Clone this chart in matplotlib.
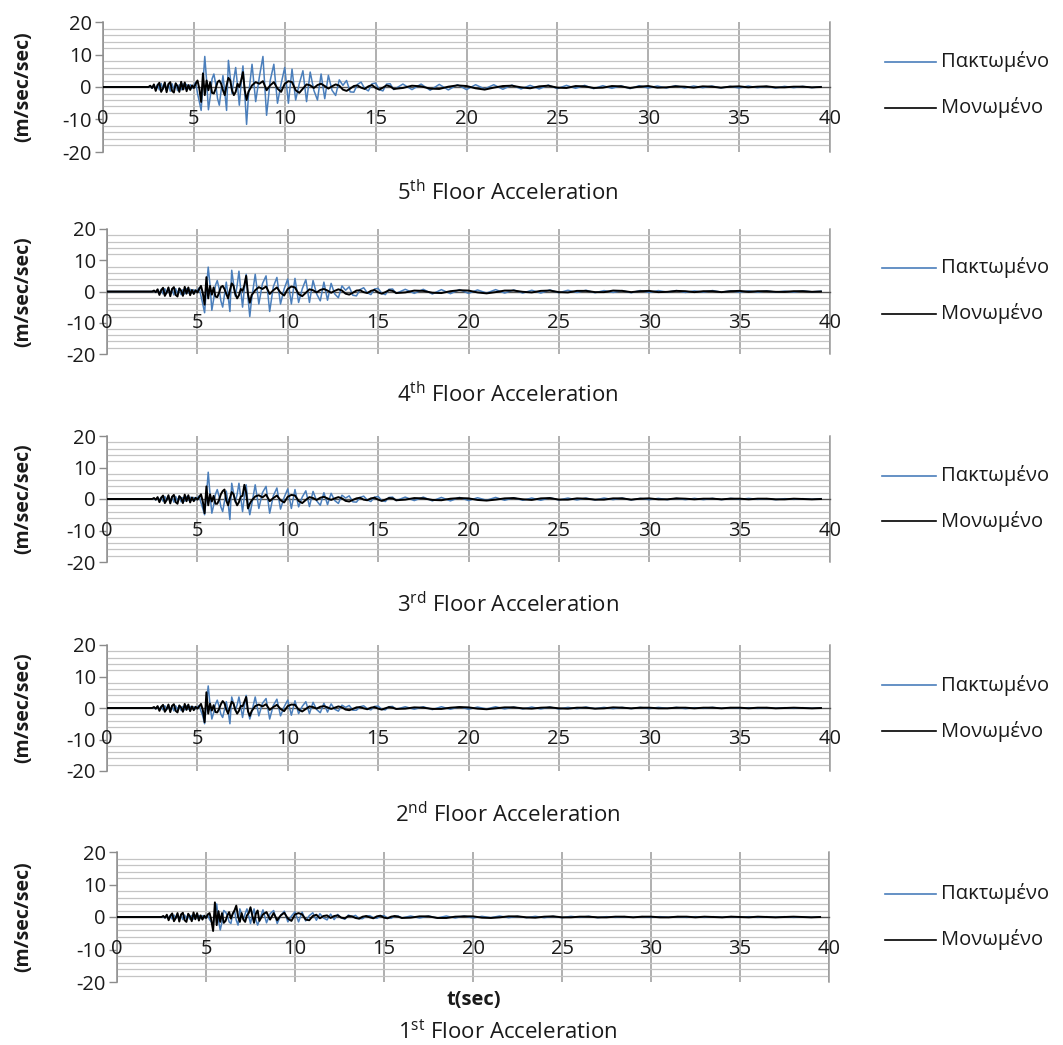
import numpy as np
import matplotlib
matplotlib.use("Agg")
import matplotlib.pyplot as plt
from matplotlib.lines import Line2D

plt.rcParams['font.family'] = ['Open Sans', 'DejaVu Sans']
plt.rcParams['mathtext.fontset'] = 'custom'
plt.rcParams['mathtext.rm'] = 'Open Sans'
plt.rcParams['axes.unicode_minus'] = False

# ---------------- data ----------------
# time axis (s): start, 2.5-5.0 @0.1, 5.1-8.0 @0.1, 8.2-16.0 @0.2, 16.5-39.5 @0.5
time_s = np.concatenate([[0.0],
                         np.round(np.arange(2.5, 5.05, 0.1), 2),
                         np.round(np.arange(5.1, 8.05, 0.1), 2),
                         np.round(np.arange(8.2, 16.05, 0.2), 2),
                         np.round(np.arange(16.5, 39.55, 0.5), 2)])

x_ticks = [0, 5, 10, 15, 20, 25, 30, 35, 40]
y_ticks = [-20, -10, 0, 10, 20]
series_names = ["Πακτωμένο", "Μονωμένο"]
panel_titles = [r"5$^{\rm th}$ Floor Acceleration", r"4$^{\rm th}$ Floor Acceleration",
                r"3$^{\rm rd}$ Floor Acceleration", r"2$^{\rm nd}$ Floor Acceleration",
                r"1$^{\rm st}$ Floor Acceleration"]

fixed_5 = [0,
    0, 0.3, -0.4, 0.6, -0.5, 0.8, -0.9, 1.1, -0.7, 1.2, -1.0, 0.9, -1.3, 1.0, -0.8, 1.2, -1.1, 0.7, -0.9, 1.0, -0.6, 0.8, -0.5, 0.7, -0.4, 0.5,
    1.5, -2.0, -4.5, -7.2, 1.0, 9.4, 2.0, -7.0, -3.0, 2.5, 4.0, 1.0, -3.5, -5.6, -1.0, 3.5, -1.5, -7.2, 8.2, 3.0,
    -2.0, 2.5, 6.0, 0.5, -5.6, 1.0, 6.5, -2.0, -11.5, -3.0,
    7.0, -4.5, 3.0, 9.4, -8.7, 2.0, 7.0, -5.0, 1.0, 6.0, -5.0, 5.5, -4.0, 1.0, 5.0, -4.5, 4.6, -1.0, -4.0, 4.0,
    -3.6, 3.6, -1.0, -2.6, 2.2, 0.5, 2.0, -1.5, -1.6, 0.8, 1.5, -0.5, -1.2, 1.0, 1.2, -0.8, -1.2, 0.9, 1.0, -0.8,
    0.9, -0.8, 0.9, -1.0, 0.8, -0.9, 0.7, -0.8, 0.7, -0.6, 0.7, -0.7, 0.6, -0.6, 0.5, -0.6, 0.6, -0.5,
    0.5, -0.4, 0.5, -0.5, 0.4, -0.4, 0.4, -0.5, 0.4, -0.3, 0.3, -0.3, 0.4, -0.3, 0.3, -0.2, 0.3, -0.3, 0.2, -0.3,
    0.3, -0.2, 0.2, -0.3, 0.2, -0.2, 0.2, -0.2, 0.1]
isolated_5 = [0,
    0, 0.4, -0.3, 0.8, -1.2, 0.5, 1.3, -1.5, -0.4, 1.4, -1.6, 0.9, 1.5, -1.2, -1.7, 1.1, 0.3, -1.5, 1.6, -0.8, 1.4, -1.3, 0.6, -0.9, 0.5, -0.3,
    1.0, 2.0, -0.5, -4.6, 4.2, -2.5, 2.0, -1.0, 1.5, -1.8, -2.0, -0.5, 1.5, 2.0, 1.0, -1.0, -2.5, 0.5, 2.8, 2.0,
    -1.0, -2.5, -1.5, 1.0, 0.0, 2.0, 4.6, -1.0, -4.0, -1.5,
    0.5, 1.5, 1.0, 1.8, -1.0, 0.5, 1.5, -0.5, -1.5, 1.0, 1.8, 1.5, -1.0, -1.8, -0.5, 0.8, 0.5, -0.3, 0.6, 1.0,
    0.3, -0.5, 0.2, 0.8, 0.4, -0.8, -1.2, -0.5, 0.3, 0.5, -0.2, -0.6, 0.2, 0.6, -0.3, -0.8, -0.2, 0.5, 0.2, -0.6,
    -0.3, 0.4, 0.2, -0.5, -0.6, 0.1, 0.5, 0.3, -0.4, -0.8, -0.2, 0.3, 0.4, -0.1, -0.4, 0.2, 0.4, -0.2,
    -0.3, 0.3, 0.2, -0.3, -0.2, 0.3, 0.2, -0.3, 0.1, 0.3, -0.2, -0.1, 0.2, 0.1, -0.2, 0.2, 0.1, -0.2, 0.1, 0.2,
    -0.1, 0.1, 0.2, -0.1, -0.1, 0.1, 0.1, -0.1, 0.0]

fixed_4 = [0,
    0, 0.2, -0.3, 0.5, -0.4, 0.7, -0.8, 0.9, -0.6, 1.0, -0.9, 0.8, -1.1, 0.9, -0.7, 1.0, -1.0, 0.6, -0.8, 0.9, -0.5, 0.7, -0.5, 0.6, -0.3, 0.4,
    1.2, -1.5, -4.0, -6.8, 1.0, 7.8, 2.0, -6.0, -2.5, 2.0, 3.5, 1.0, -3.0, -5.0, -1.0, 3.0, -1.5, -6.4, 6.8, 2.5,
    -1.5, 2.0, 6.5, 0.5, -5.0, 1.0, 5.5, -2.0, -8.0, -2.5,
    5.5, -4.0, 2.5, 5.0, -6.4, 1.5, 4.5, -4.0, 0.8, 4.0, -4.0, 4.2, -3.5, 0.8, 3.8, -3.5, 3.5, -0.8, -3.0, 3.0,
    -2.8, 2.6, -0.8, -2.0, 1.8, 0.4, 1.5, -1.2, -1.4, 0.6, 1.2, -0.4, -1.0, 0.8, 1.0, -0.6, -1.0, 0.7, 0.8, -0.6,
    0.7, -0.6, 0.7, -0.8, 0.6, -0.7, 0.6, -0.6, 0.5, -0.5, 0.6, -0.5, 0.5, -0.5, 0.4, -0.5, 0.5, -0.4,
    0.4, -0.3, 0.4, -0.4, 0.3, -0.3, 0.3, -0.4, 0.3, -0.3, 0.3, -0.2, 0.3, -0.3, 0.2, -0.2, 0.3, -0.2, 0.2, -0.2,
    0.2, -0.2, 0.2, -0.2, 0.1, -0.2, 0.2, -0.1, 0.1]
isolated_4 = [0,
    0, 0.3, -0.2, 0.7, -1.1, 0.4, 1.2, -1.4, -0.3, 1.3, -1.5, 0.8, 1.4, -1.1, -1.6, 1.0, 0.3, -1.4, 1.5, -0.7, 1.3, -1.2, 0.5, -0.8, 0.4, -0.3,
    0.8, 1.8, -0.5, -4.2, 4.6, -2.2, 1.8, -1.0, 1.3, -1.6, -1.8, -0.4, 1.4, 1.8, 0.8, -0.8, -2.2, 0.4, 2.6, 1.8,
    -0.8, -2.2, -1.2, 0.8, 0.2, 2.0, 5.0, -0.8, -3.6, -1.2,
    0.4, 1.4, 0.8, 1.6, -0.8, 0.4, 1.3, -0.4, -1.3, 0.8, 1.6, 1.3, -0.8, -1.5, -0.4, 0.7, 0.4, -0.3, 0.5, 0.8,
    0.3, -0.4, 0.2, 0.7, 0.3, -0.7, -1.0, -0.4, 0.3, 0.4, -0.2, -0.5, 0.2, 0.5, -0.3, -0.7, -0.2, 0.4, 0.2, -0.5,
    -0.3, 0.3, 0.2, -0.4, -0.5, 0.1, 0.4, 0.3, -0.3, -0.6, -0.2, 0.3, 0.3, -0.1, -0.3, 0.2, 0.3, -0.2,
    -0.3, 0.2, 0.2, -0.2, -0.2, 0.3, 0.2, -0.2, 0.1, 0.2, -0.2, -0.1, 0.2, 0.1, -0.2, 0.1, 0.1, -0.2, 0.1, 0.2,
    -0.1, 0.1, 0.1, -0.1, -0.1, 0.1, 0.1, -0.1, 0.0]

fixed_3 = [0,
    0, 0.2, -0.3, 0.4, -0.4, 0.6, -0.7, 0.8, -0.5, 0.9, -0.8, 0.7, -1.0, 0.8, -0.6, 0.9, -0.9, 0.5, -0.7, 0.8, -0.4, 0.6, -0.4, 0.5, -0.3, 0.4,
    1.0, -1.2, -3.0, -5.0, 1.0, 8.5, 1.5, -4.5, -2.0, 1.5, 3.0, 0.8, -2.5, -4.0, -0.8, 2.5, -1.2, -6.5, 5.0, 2.0,
    -1.0, 1.5, 5.0, 0.5, -4.0, 0.8, 4.5, -1.5, -5.0, -2.0,
    4.5, -3.0, 2.0, 4.0, -4.5, 1.0, 3.5, -3.2, 0.5, 3.2, -3.0, 3.0, -2.5, 0.6, 2.6, -2.4, 2.4, -0.6, -2.0, 2.0,
    -1.8, 1.8, -0.5, -1.4, 1.2, 0.3, 1.0, -0.9, -1.0, 0.5, 0.9, -0.3, -0.8, 0.6, 0.8, -0.5, -0.8, 0.5, 0.6, -0.5,
    0.6, -0.5, 0.6, -0.6, 0.5, -0.6, 0.5, -0.5, 0.4, -0.4, 0.5, -0.4, 0.4, -0.4, 0.3, -0.4, 0.4, -0.3,
    0.3, -0.3, 0.3, -0.3, 0.3, -0.2, 0.3, -0.3, 0.2, -0.2, 0.2, -0.2, 0.2, -0.2, 0.2, -0.2, 0.2, -0.2, 0.2, -0.1,
    0.2, -0.1, 0.1, -0.2, 0.1, -0.1, 0.1, -0.1, 0.1]
isolated_3 = [0,
    0, 0.3, -0.2, 0.6, -1.0, 0.4, 1.1, -1.3, -0.3, 1.2, -1.4, 0.7, 1.3, -1.0, -1.5, 0.9, 0.3, -1.3, 1.4, -0.7, 1.2, -1.1, 0.5, -0.7, 0.4, -0.2,
    0.6, 1.5, -0.8, -4.5, 4.0, -2.0, 1.5, -0.8, 1.0, -1.5, -1.5, -0.3, 1.5, 2.5, 3.0, -0.5, -2.0, 0.3, 2.2, 1.5,
    -0.6, -2.0, -1.0, 0.8, 1.0, 4.5, 2.0, -3.0, -1.5, -0.5,
    0.8, 1.2, 0.5, 1.4, -0.7, 0.3, 1.1, -0.4, -1.1, 0.7, 1.3, 1.1, -0.6, -1.3, -0.3, 0.6, 0.3, -0.3, 0.4, 0.7,
    0.2, -0.3, 0.2, 0.6, 0.2, -0.6, -0.8, -0.3, 0.2, 0.4, -0.2, -0.4, 0.2, 0.4, -0.2, -0.6, -0.2, 0.3, 0.2, -0.4,
    -0.2, 0.3, 0.2, -0.3, -0.4, 0.1, 0.3, 0.2, -0.3, -0.5, -0.2, 0.2, 0.3, -0.1, -0.3, 0.2, 0.3, -0.2,
    -0.2, 0.2, 0.1, -0.2, -0.2, 0.2, 0.2, -0.2, 0.1, 0.2, -0.1, -0.1, 0.2, 0.1, -0.1, 0.1, 0.1, -0.1, 0.1, 0.1,
    -0.1, 0.1, 0.1, -0.1, -0.1, 0.1, 0.0, -0.1, 0.0]

fixed_2 = [0,
    0, 0.2, -0.3, 0.4, -0.4, 0.5, -0.6, 0.7, -0.5, 0.8, -0.7, 0.6, -0.9, 0.7, -0.5, 0.8, -0.8, 0.5, -0.6, 0.7, -0.4, 0.5, -0.3, 0.4, -0.3, 0.3,
    0.8, -1.0, -2.5, -5.0, 1.5, 7.0, 1.0, -3.5, -1.5, 1.2, 2.5, 0.5, -2.0, -3.0, -0.5, 2.0, -1.0, -5.0, 3.5, 1.5,
    -0.8, 1.0, 3.5, 0.4, -3.0, 0.6, 4.0, -1.0, -3.5, -1.5,
    3.5, -2.5, 1.5, 3.0, -3.5, 0.8, 2.8, -2.5, 0.4, 2.5, -2.3, 2.3, -1.8, 0.5, 2.0, -1.8, 1.8, -0.5, -1.5, 1.5,
    -1.3, 1.3, -0.4, -1.0, 0.9, 0.2, 0.8, -0.7, -0.7, 0.4, 0.7, -0.2, -0.6, 0.5, 0.6, -0.4, -0.6, 0.4, 0.5, -0.4,
    0.4, -0.4, 0.4, -0.5, 0.4, -0.4, 0.4, -0.4, 0.3, -0.3, 0.4, -0.3, 0.3, -0.3, 0.3, -0.3, 0.3, -0.3,
    0.2, -0.2, 0.3, -0.2, 0.2, -0.2, 0.2, -0.2, 0.2, -0.2, 0.2, -0.1, 0.2, -0.2, 0.1, -0.1, 0.2, -0.1, 0.1, -0.1,
    0.1, -0.1, 0.1, -0.1, 0.1, -0.1, 0.1, -0.1, 0.0]
isolated_2 = [0,
    0, 0.3, -0.2, 0.6, -0.9, 0.4, 1.0, -1.2, -0.3, 1.1, -1.3, 0.7, 1.2, -0.9, -1.4, 0.8, 0.2, -1.2, 1.3, -0.6, 1.1, -1.0, 0.5, -0.7, 0.4, -0.2,
    0.5, 1.3, -0.6, -4.5, 5.0, -1.8, 1.4, -0.8, 0.9, -1.3, -1.4, -0.3, 1.2, 2.2, 1.5, -0.5, -1.8, 0.3, 2.0, 1.4,
    -0.6, -1.8, -0.9, 0.7, 0.5, 2.0, 3.5, -1.0, -2.5, -1.0,
    0.6, 1.1, 0.5, 1.2, -0.6, 0.3, 1.0, -0.3, -1.0, 0.6, 1.1, 1.0, -0.5, -1.1, -0.3, 0.5, 0.3, -0.2, 0.4, 0.6,
    0.2, -0.3, 0.1, 0.5, 0.2, -0.5, -0.7, -0.3, 0.2, 0.3, -0.1, -0.4, 0.1, 0.3, -0.2, -0.5, -0.1, 0.3, 0.1, -0.3,
    -0.2, 0.2, 0.1, -0.3, -0.3, 0.1, 0.3, 0.2, -0.2, -0.4, -0.1, 0.2, 0.2, -0.1, -0.2, 0.1, 0.2, -0.1,
    -0.2, 0.1, 0.1, -0.2, -0.1, 0.2, 0.1, -0.1, 0.1, 0.1, -0.1, -0.1, 0.1, 0.1, -0.1, 0.1, 0.1, -0.1, 0.1, 0.1,
    -0.1, 0.1, 0.1, -0.1, 0.0, 0.1, 0.0, -0.1, 0.0]

fixed_1 = [0,
    0, 0.2, -0.3, 0.4, -0.4, 0.5, -0.6, 0.6, -0.5, 0.7, -0.6, 0.6, -0.8, 0.6, -0.5, 0.7, -0.7, 0.5, -0.6, 0.6, -0.4, 0.5, -0.3, 0.4, -0.3, 0.3,
    0.6, -0.8, -1.5, -2.5, 1.0, 4.0, -1.0, -4.0, -1.5, 2.0, 1.5, 0.5, -1.5, -2.0, 1.0, 2.0, -1.0, -2.5, 2.5, 1.0,
    -0.8, 1.0, 2.5, 0.3, -2.0, 0.5, 2.5, -0.8, -2.5, -1.0,
    2.2, -1.8, 1.0, 2.0, -2.0, 0.5, 1.8, -1.5, 0.3, 1.6, -1.5, 1.5, -1.2, 0.4, 1.3, -1.0, 1.0, -0.3, -0.9, 0.9,
    -0.8, 0.8, -0.3, -0.7, 0.6, 0.1, 0.5, -0.5, -0.5, 0.3, 0.4, -0.2, -0.4, 0.3, 0.4, -0.3, -0.4, 0.3, 0.3, -0.3,
    0.3, -0.3, 0.3, -0.3, 0.3, -0.3, 0.3, -0.3, 0.2, -0.2, 0.3, -0.2, 0.2, -0.2, 0.2, -0.2, 0.2, -0.2,
    0.2, -0.1, 0.2, -0.2, 0.1, -0.1, 0.1, -0.1, 0.1, -0.1, 0.1, -0.1, 0.1, -0.1, 0.1, -0.1, 0.1, -0.1, 0.1, -0.1,
    0.1, -0.1, 0.1, -0.1, 0.1, -0.1, 0.0, -0.1, 0.0]
isolated_1 = [0,
    0, 0.3, -0.2, 0.7, -1.0, 0.4, 1.1, -1.3, -0.3, 1.2, -1.4, 0.8, 1.3, -1.0, -1.5, 1.0, 0.2, -1.3, 1.4, -0.7, 1.2, -1.1, 0.5, -0.8, 0.4, -0.3,
    0.8, 1.2, -1.0, -4.3, 4.5, -2.5, 1.8, -1.5, 1.2, -1.8, -1.2, 0.5, 1.5, -0.5, 1.0, 2.0, 3.5, 0.2, -1.5, 1.2,
    -0.8, -1.5, 0.5, 1.2, 3.0, 0.5, -1.8, 1.0, 2.0, -1.2,
    0.8, 1.5, -0.8, 1.2, -1.0, 0.5, 1.3, -0.5, -1.2, 0.8, 1.2, 0.8, -0.8, -1.0, 0.3, 0.7, -0.4, 0.3, 0.5, -0.3,
    0.3, 0.5, -0.2, -0.4, 0.3, 0.2, -0.3, -0.5, 0.1, 0.3, -0.1, -0.4, 0.2, 0.4, -0.2, -0.4, 0.1, 0.3, 0.1, -0.3,
    -0.2, 0.2, 0.2, -0.3, -0.3, 0.1, 0.2, 0.2, -0.2, -0.3, -0.1, 0.2, 0.2, -0.1, -0.2, 0.1, 0.2, -0.1,
    -0.1, 0.1, 0.1, -0.1, -0.1, 0.1, 0.1, -0.1, 0.1, 0.1, -0.1, -0.1, 0.1, 0.1, -0.1, 0.1, 0.0, -0.1, 0.1, 0.0,
    -0.1, 0.1, 0.0, -0.1, 0.0, 0.1, 0.0, -0.1, 0.0]

fixed_series = [fixed_5, fixed_4, fixed_3, fixed_2, fixed_1]
isolated_series = [isolated_5, isolated_4, isolated_3, isolated_2, isolated_1]

# ---------------- layout (pixels) ----------------
W, H = 1063, 1045
# (left, right, top(y=20), bottom(y=-20)) in pixels
boxes = [(103, 830, 22, 152), (107, 830, 229, 354), (107, 830, 436, 562),
         (107, 830, 645, 771), (117, 829, 852, 982)]
title_y = [193, 395, 605, 815, 1032]
legend_y = [(62, 108), (268, 314), (476, 521), (685, 731), (894, 940)]
legend_x0 = [885, 882, 882, 882, 885]

BLUE = '#4a7ebb'
TXT = '#1a1a1a'
fig = plt.figure(figsize=(W / 100, H / 100), dpi=100)

for i in range(5):
    l, r, t, b = boxes[i]
    ax = fig.add_axes([l / W, 1 - b / H, (r - l) / W, (b - t) / H])
    ax.set_xlim(0, 40)
    ax.set_ylim(-20, 20)
    ax.set_yticks(y_ticks)
    ax.set_yticks(np.arange(-20, 21, 2), minor=True)
    ax.set_xticks(x_ticks)
    ax.grid(True, which='minor', axis='y', color='#c4c4c4', lw=0.9, zorder=0)
    ax.grid(True, which='major', axis='x', color='#9a9a9a', lw=1.1, zorder=0)
    ax.tick_params(axis='y', which='major', length=6, width=1.0, color='#8c8c8c',
                   labelsize=14.5, pad=2, labelcolor=TXT)
    ax.tick_params(axis='y', which='minor', length=0)
    ax.tick_params(axis='x', length=0, labelbottom=False)
    ax.spines['top'].set_visible(False)
    ax.spines['right'].set_color('#9a9a9a')
    ax.spines['right'].set_linewidth(1.1)
    ax.spines['left'].set_color('#8c8c8c')
    ax.spines['left'].set_linewidth(1.1)
    ax.spines['bottom'].set_position(('data', 0))
    ax.spines['bottom'].set_color('#555555')
    ax.spines['bottom'].set_linewidth(1.0)
    ax.set_facecolor('white')
    for xt in x_ticks:
        ax.text(xt, -10, str(xt), ha='center', va='center', fontsize=14.5,
                color=TXT, zorder=5)
    ax.set_ylabel("(m/sec/sec)", fontsize=14, fontweight='bold', color=TXT)
    ax.yaxis.set_label_coords(-(l - 33) / (r - l), 0.5)

    lb, = ax.plot(time_s, fixed_series[i], color=BLUE, lw=1.1, zorder=3)
    lk, = ax.plot(time_s, isolated_series[i], color='black', lw=1.4, zorder=4)

    # legend
    for line, name, yy in zip([lb, lk], series_names, legend_y[i]):
        fig.add_artist(Line2D([legend_x0[i] / W, 936 / W], [1 - yy / H, 1 - yy / H],
                              color=line.get_color(), lw=1.2))
        fig.text(941 / W, 1 - yy / H, name, ha='left', va='center', fontsize=14.5,
                 color=TXT)

    fig.text(508 / W, 1 - title_y[i] / H, panel_titles[i], ha='center', va='center',
             fontsize=16, color=TXT)

fig.text(474 / W, 1 - 1000 / H, "t(sec)", ha='center', va='center', fontsize=14.5,
         fontweight='bold', color=TXT)

fig.savefig("out.png", dpi=100, facecolor='white')
